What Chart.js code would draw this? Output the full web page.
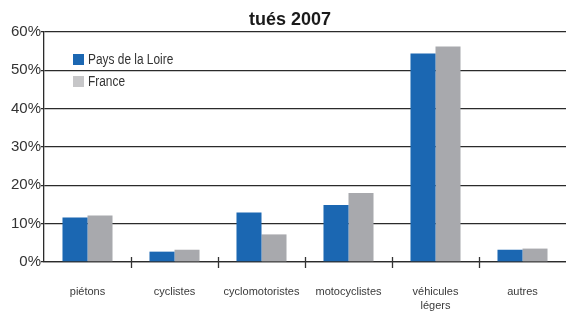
<!DOCTYPE html>
<html><head><meta charset="utf-8">
<script src="https://cdn.jsdelivr.net/npm/chart.js@4/dist/chart.umd.min.js"></script>
<style>html,body{margin:0;padding:0;background:#fff}#w{width:566px;height:313px}</style>
</head><body><div id="w"><canvas id="c"></canvas></div>
<script>
const categories = ['piétons','cyclistes','cyclomotoristes','motocyclistes',['véhicules','légers'],'autres'];
const paysDeLaLoire = [11.6, 2.7, 12.9, 14.9, 54.4, 3.2];
const france = [12.1, 3.2, 7.2, 18.0, 56.2, 3.5];
const seriesNames = ['Pays de la Loire','France'];
const titleText = 'tués 2007';

const extras = {
  id:'extras',
  afterDraw(chart){
    const {ctx, chartArea:a, scales:{x}} = chart;
    ctx.save();
    // category boundary ticks crossing the axis
    ctx.strokeStyle='#333'; ctx.lineWidth=1.3;
    const n = categories.length;
    for(let i=1;i<n;i++){
      const px = Math.round((x.getPixelForTick(i-1)+x.getPixelForTick(i))/2)+0.5;
      ctx.beginPath(); ctx.moveTo(px,a.bottom-5); ctx.lineTo(px,a.bottom+6); ctx.stroke();
    }
    // title
    ctx.fillStyle='#1a1a1a';
    ctx.font='bold 18px "Liberation Sans", Arial, sans-serif';
    ctx.textAlign='center'; ctx.textBaseline='alphabetic';
    ctx.fillText(titleText, 290, 25);
    // legend
    const cols=['#1b67b2','#c6c6c8'];
    ctx.font='14px "Liberation Sans", Arial, sans-serif';
    ctx.textAlign='left'; ctx.textBaseline='middle';
    seriesNames.forEach((nm,i)=>{
      const yy=a.top+27.5+i*22;
      ctx.fillStyle=cols[i];
      ctx.fillRect(a.left+29, yy-5.5, 11, 11);
      ctx.fillStyle='#333';
      ctx.save();
      ctx.translate(a.left+44, yy+0.5);
      ctx.scale(0.85,1);
      ctx.fillText(nm, 0, 0);
      ctx.restore();
    });
    ctx.restore();
  }
};

new Chart(document.getElementById('c'),{
  type:'bar',
  data:{labels:categories,datasets:[
    {label:seriesNames[0],data:paysDeLaLoire,backgroundColor:'#1b67b2',categoryPercentage:0.575,barPercentage:1},
    {label:seriesNames[1],data:france,backgroundColor:'#a8a9ad',categoryPercentage:0.575,barPercentage:1}
  ]},
  options:{
    responsive:true,maintainAspectRatio:false,animation:false,
    layout:{padding:{top:32,right:0,left:0,bottom:0}},
    plugins:{legend:{display:false},title:{display:false},tooltip:{enabled:false}},
    scales:{
      x:{
        grid:{display:false},
        border:{color:'#2b2b2b',width:1.3},
        ticks:{color:'#3a3a3a',padding:15,font:{family:'"Liberation Sans", Arial',size:11,lineHeight:1.3},maxRotation:0,autoSkip:false},
        afterFit(s){s.height=51;}
      },
      y:{
        min:0,max:60,
        grid:{color:'#2b2b2b',lineWidth:1.3,drawTicks:true,tickLength:3},
        border:{color:'#2b2b2b',width:1.3},
        ticks:{stepSize:10,color:'#333',padding:0,font:{family:'"Liberation Sans", Arial',size:15},callback:v=>v+'%'},
        afterFit(s){s.width=44;}
      }
    }
  },
  plugins:[extras]
});
</script></body></html>
